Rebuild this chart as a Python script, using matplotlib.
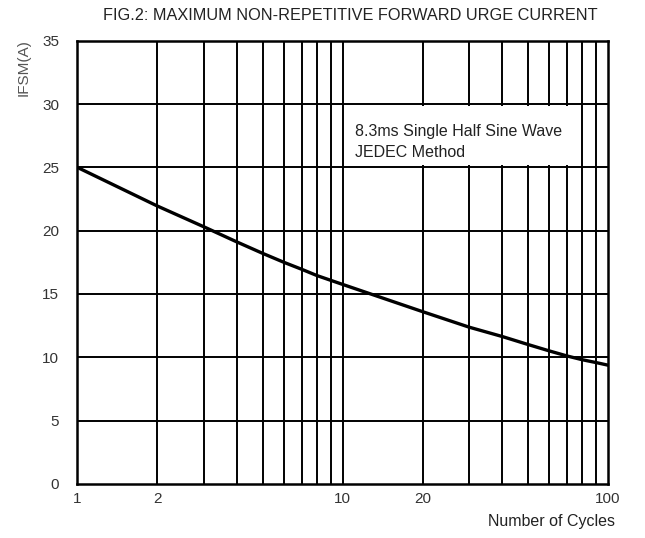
import matplotlib
matplotlib.use("Agg")
import matplotlib.pyplot as plt
from matplotlib.patches import Rectangle
from matplotlib.transforms import blended_transform_factory

plt.rcParams['font.family'] = ['Liberation Sans', 'DejaVu Sans']

# Surge current vs number of cycles
ciclos = [1, 2, 3, 4, 5, 6, 7, 8, 9, 10, 20, 30, 40, 50, 60, 70, 80, 90, 100]
ifsm = [25.0, 21.95, 20.3, 19.1, 18.2, 17.5, 16.95, 16.45, 16.08, 15.75,
        13.6, 12.37, 11.63, 11.0, 10.5, 10.1, 9.8, 9.58, 9.37]

# Grid and tick labels
lineas_x = [2, 3, 4, 5, 6, 7, 8, 9, 10, 20, 30, 40, 50, 60, 70, 80, 90]
lineas_y = [5, 10, 15, 20, 25, 30]
ticks_x = [1, 2, 10, 20, 100]
etiquetas_x = ['1', '2', '10', '20', '100']
ticks_y = [0, 5, 10, 15, 20, 25, 30, 35]

fig = plt.figure(figsize=(6.45, 5.38), dpi=100)
ax = fig.add_axes([0.1198, 0.1007, 0.823, 0.8236])

ax.set_xscale('log')
ax.set_xlim(1, 100)
ax.set_ylim(0, 35)

for x in lineas_x:
    ax.axvline(x, color='black', lw=1.4, zorder=1)
for y in lineas_y:
    ax.axhline(y, color='black', lw=1.4, zorder=1)

# white box behind the note
tr = blended_transform_factory(ax.transAxes, ax.transData)
ax.add_patch(Rectangle((0.507, 25.15), 0.428, 4.7, transform=tr,
                       facecolor='white', edgecolor='none', zorder=2))
ax.text(0.524, 0.7715, '8.3ms Single Half Sine Wave\nJEDEC Method',
        transform=ax.transAxes, fontsize=11.5, color='#222222',
        va='center', ha='left', linespacing=1.45, zorder=3)

ax.plot(ciclos, ifsm, color='black', lw=2.4, zorder=4)

ax.set_xticks(ticks_x)
ax.set_xticklabels(etiquetas_x)
ax.xaxis.set_minor_locator(matplotlib.ticker.NullLocator())
ax.set_yticks(ticks_y)
ax.tick_params(axis='both', length=0, labelsize=11, colors='#333333')
ax.tick_params(axis='x', pad=6)
ax.tick_params(axis='y', pad=13)

for s in ax.spines.values():
    s.set_linewidth(1.8)
    s.set_color('black')

fig.text(0.543, 0.972, 'FIG.2: MAXIMUM NON-REPETITIVE FORWARD URGE CURRENT',
         ha='center', va='center', fontsize=11.7, color='#222222')
fig.text(0.037, 0.875, 'IFSM(A)', rotation=90, ha='center', va='center',
         fontsize=11, color='#555555')
fig.text(0.953, 0.03, 'Number of Cycles', ha='right', va='center',
         fontsize=11.5, color='#222222')

fig.savefig('out.png', dpi=100)
